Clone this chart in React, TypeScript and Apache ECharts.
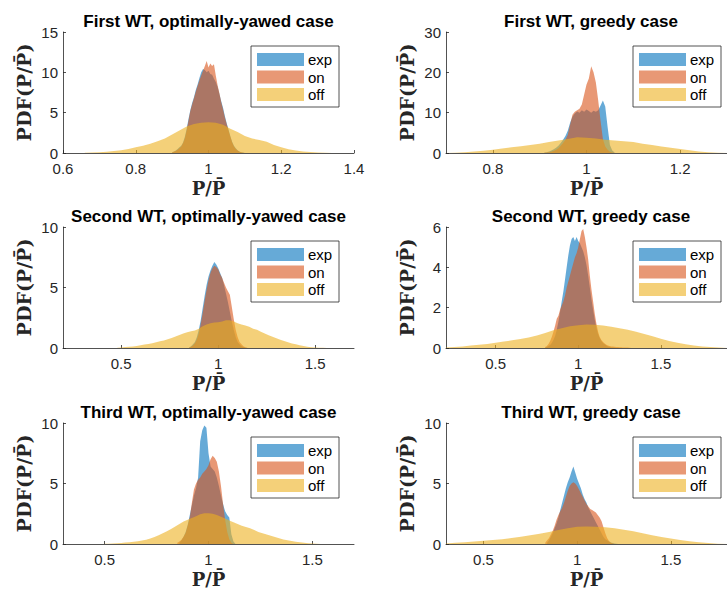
import React, { useEffect, useRef } from "react";
import * as echarts from "echarts";

// ---------- data ----------
const TITLES = [
  "First WT, optimally-yawed case",
  "First WT, greedy case",
  "Second WT, optimally-yawed case",
  "Second WT, greedy case",
  "Third WT, optimally-yawed case",
  "Third WT, greedy case",
];
const SERIES_NAMES = ["exp", "on", "off"];
const X_RANGES = [[0.6, 1.4], [0.7, 1.3], [0.2, 1.7], [0.2, 1.9], [0.3, 1.7], [0.3, 1.8]];
const X_TICKS = [
  [0.6, 0.8, 1, 1.2, 1.4],
  [0.8, 1, 1.2],
  [0.5, 1, 1.5],
  [0.5, 1, 1.5],
  [0.5, 1, 1.5],
  [0.5, 1, 1.5],
];
const Y_TICKS = [[0, 5, 10, 15], [0, 10, 20, 30], [0, 5, 10], [0, 2, 4, 6], [0, 5, 10], [0, 5, 10]];

// bin start, bin width for each histogram
const EXP1_BINS = [0.9, 0.005];
const EXP1 = [0.1, 0.2, 0.3, 0.5, 0.7, 0.9, 1.3, 2.0, 3.0, 4.2, 5.3, 6.2, 6.9, 7.8, 8.5, 9.3, 10.0, 10.4, 10.3, 10.0, 10.2, 9.8, 9.7, 9.2, 8.8, 8.2, 7.3, 6.4, 5.6, 4.6, 3.7, 2.9, 2.1, 1.4, 0.9, 0.6, 0.35, 0.2, 0.1, 0.05, 0];
const ON1_BINS = [0.9, 0.005];
const ON1 = [0.05, 0.15, 0.25, 0.4, 0.6, 0.8, 1.2, 1.8, 2.8, 4.0, 5.2, 6.0, 6.8, 7.6, 8.3, 9.0, 9.6, 10.2, 10.8, 11.4, 10.6, 11.1, 10.8, 11.0, 9.6, 8.4, 7.4, 6.3, 5.4, 4.4, 3.6, 2.8, 2.0, 1.3, 0.8, 0.5, 0.3, 0.15, 0.08, 0.03, 0];
const OFF1_BINS = [0.66, 0.02];
const OFF1 = [0.02, 0.05, 0.1, 0.15, 0.25, 0.35, 0.5, 0.7, 0.9, 1.15, 1.45, 1.8, 2.3, 2.8, 3.3, 3.6, 3.75, 3.8, 3.75, 3.5, 3.0, 2.6, 2.1, 1.8, 1.6, 1.4, 1.0, 0.7, 0.45, 0.3, 0.2, 0.12, 0.07, 0.03, 0];

const EXP2_BINS = [0.91, 0.005];
const EXP2 = [0.1, 0.2, 0.4, 0.6, 0.9, 1.3, 1.8, 2.5, 3.3, 4.2, 5.5, 7.5, 9.0, 9.8, 10.3, 10.0, 10.6, 10.2, 10.8, 10.4, 10.0, 10.5, 10.2, 10.6, 11.8, 13.0, 11.5, 6.5, 2.0, 0.6, 0.1];
const ON2_BINS = [0.91, 0.005];
const ON2 = [0.05, 0.1, 0.2, 0.3, 0.5, 0.8, 1.2, 1.8, 2.5, 3.3, 4.5, 7.0, 9.5, 10.2, 10.6, 11.0, 12.0, 14.5, 17.0, 18.5, 21.5, 20.0, 17.5, 13.0, 8.0, 3.5, 1.6, 0.8, 0.3, 0.1, 0];
const OFF2_BINS = [0.7, 0.02];
const OFF2 = [0.02, 0.08, 0.2, 0.35, 0.55, 0.8, 1.1, 1.4, 1.7, 2.0, 2.3, 2.7, 3.1, 3.5, 3.9, 3.8, 3.6, 3.3, 3.1, 2.9, 2.7, 2.3, 2.0, 1.6, 1.3, 1.0, 0.7, 0.4, 0.2, 0.08, 0.02];

const EXP3_BINS = [0.85, 0.01];
const EXP3 = [0.05, 0.15, 0.3, 0.5, 0.9, 1.5, 2.3, 3.3, 4.3, 5.2, 5.9, 6.4, 6.8, 7.1, 6.9, 6.6, 6.2, 5.8, 5.2, 4.5, 3.8, 3.0, 2.2, 1.5, 0.9, 0.5, 0.3, 0.15, 0.08, 0.03, 0];
const ON3_BINS = [0.85, 0.01];
const ON3 = [0.03, 0.1, 0.2, 0.4, 0.7, 1.2, 2.0, 2.9, 3.9, 4.8, 5.6, 6.2, 6.6, 6.8, 6.7, 6.5, 6.1, 5.8, 5.4, 5.0, 4.7, 4.4, 3.4, 2.4, 1.5, 0.9, 0.5, 0.3, 0.15, 0.07, 0.02];
const OFF3_BINS = [0.48, 0.02];
const OFF3 = [0.02, 0.05, 0.08, 0.1, 0.13, 0.17, 0.22, 0.28, 0.34, 0.4, 0.47, 0.55, 0.63, 0.72, 0.83, 0.95, 1.08, 1.2, 1.3, 1.38, 1.45, 1.6, 1.8, 1.95, 2.05, 2.1, 2.12, 2.2, 2.3, 2.3, 2.2, 2.05, 1.95, 1.85, 1.75, 1.6, 1.5, 1.35, 1.2, 1.05, 0.92, 0.8, 0.68, 0.57, 0.47, 0.38, 0.3, 0.22, 0.16, 0.11, 0.07, 0.05, 0.03, 0.02, 0];

const EXP4_BINS = [0.8, 0.01];
const EXP4 = [0.02, 0.05, 0.1, 0.15, 0.25, 0.4, 0.6, 0.9, 1.3, 1.8, 2.3, 2.8, 3.4, 4.0, 4.6, 5.1, 5.4, 5.5, 5.3, 5.5, 5.3, 5.2, 5.0, 4.8, 4.5, 4.1, 3.6, 3.0, 2.4, 1.9, 1.4, 1.0, 0.7, 0.5, 0.35, 0.25, 0.18, 0.12, 0.08, 0.05, 0.03, 0.02, 0.01, 0];
const ON4_BINS = [0.8, 0.01];
const ON4 = [0.05, 0.1, 0.2, 0.35, 0.55, 0.8, 1.1, 1.45, 1.6, 1.9, 2.1, 2.3, 2.6, 3.0, 3.3, 3.6, 3.9, 4.2, 4.5, 4.7, 5.0, 5.4, 5.8, 5.9, 5.5, 5.0, 4.4, 3.6, 2.9, 2.3, 1.7, 1.2, 0.8, 0.55, 0.4, 0.3, 0.22, 0.16, 0.12, 0.1, 0.08, 0.07, 0.06, 0.05, 0.05, 0.04, 0.04, 0.03, 0.03, 0.02, 0.02, 0.01, 0];
const OFF4_BINS = [0.2, 0.05];
const OFF4 = [0.02, 0.05, 0.08, 0.12, 0.16, 0.2, 0.26, 0.32, 0.38, 0.45, 0.52, 0.62, 0.75, 0.88, 0.98, 1.08, 1.13, 1.16, 1.15, 1.12, 1.05, 0.98, 0.9, 0.8, 0.7, 0.58, 0.46, 0.35, 0.26, 0.18, 0.12, 0.08, 0.05, 0.02, 0];

const EXP5_BINS = [0.86, 0.01];
const EXP5 = [0.1, 0.3, 0.6, 1.0, 1.6, 2.4, 3.2, 4.0, 4.6, 5.5, 8.5, 9.4, 9.8, 9.6, 7.5, 6.4, 6.2, 6.0, 5.5, 4.8, 4.0, 3.3, 2.7, 2.4, 2.2, 0.8, 0.2, 0];
const ON5_BINS = [0.85, 0.01];
const ON5 = [0.1, 0.2, 0.35, 0.6, 0.9, 1.5, 2.2, 3.4, 4.5, 5.0, 5.3, 5.5, 5.8, 6.0, 6.2, 6.5, 7.0, 7.3, 7.1, 6.8, 6.0, 4.8, 3.3, 2.0, 1.0, 0.4, 0.1, 0];
const OFF5_BINS = [0.5, 0.02];
const OFF5 = [0.02, 0.03, 0.05, 0.07, 0.09, 0.12, 0.15, 0.19, 0.23, 0.28, 0.35, 0.45, 0.58, 0.72, 0.88, 1.05, 1.25, 1.45, 1.65, 1.85, 2.0, 2.15, 2.3, 2.45, 2.55, 2.55, 2.5, 2.4, 2.25, 2.1, 1.95, 1.8, 1.65, 1.5, 1.4, 1.3, 1.15, 1.0, 0.88, 0.78, 0.68, 0.57, 0.47, 0.38, 0.31, 0.25, 0.19, 0.14, 0.1, 0.07, 0.05, 0.03, 0.01, 0];

const EXP6_BINS = [0.84, 0.01];
const EXP6 = [0.1, 0.3, 0.6, 0.9, 1.3, 1.7, 2.2, 2.8, 3.4, 4.0, 4.6, 5.1, 5.5, 6.0, 6.4, 5.9, 5.4, 5.0, 4.6, 4.1, 3.7, 3.4, 3.0, 2.7, 2.4, 2.1, 1.8, 1.5, 1.2, 0.9, 0.6, 0.4, 0.3, 0.2, 0.12, 0.08, 0.05, 0.02, 0];
const ON6_BINS = [0.83, 0.01];
const ON6 = [0.1, 0.3, 0.5, 0.8, 1.1, 1.5, 2.0, 2.4, 2.7, 3.0, 3.4, 3.9, 4.4, 4.8, 5.0, 5.1, 5.0, 4.8, 4.5, 4.2, 3.9, 3.6, 3.3, 3.1, 2.9, 2.8, 2.7, 2.6, 2.4, 2.2, 1.9, 1.4, 0.9, 0.5, 0.25, 0.1, 0.05, 0];
const OFF6_BINS = [0.3, 0.05];
const OFF6 = [0.05, 0.1, 0.15, 0.2, 0.27, 0.33, 0.4, 0.5, 0.6, 0.72, 0.85, 1.0, 1.15, 1.3, 1.42, 1.45, 1.43, 1.38, 1.3, 1.18, 1.05, 0.88, 0.72, 0.57, 0.45, 0.33, 0.22, 0.14, 0.08, 0.03, 0.01];

const HISTS = [
  [[EXP1_BINS, EXP1], [ON1_BINS, ON1], [OFF1_BINS, OFF1]],
  [[EXP2_BINS, EXP2], [ON2_BINS, ON2], [OFF2_BINS, OFF2]],
  [[EXP3_BINS, EXP3], [ON3_BINS, ON3], [OFF3_BINS, OFF3]],
  [[EXP4_BINS, EXP4], [ON4_BINS, ON4], [OFF4_BINS, OFF4]],
  [[EXP5_BINS, EXP5], [ON5_BINS, ON5], [OFF5_BINS, OFF5]],
  [[EXP6_BINS, EXP6], [ON6_BINS, ON6], [OFF6_BINS, OFF6]],
];

// ---------- style ----------
const COLORS = ["#0072BD", "#D95319", "#EDB120"];
const ALPHA = 0.6;
const AXIS_COLOR = "#262626";
const COL_LEFT = [63, 446];
const COL_WIDTH = [291, 290];
const ROW_TOP = [32, 227, 423];
const PLOT_H = 121;
const SANS = "'Liberation Sans', Arial, Helvetica, sans-serif";
const SERIF = "'DejaVu Serif', serif";

function toPairs(bins: number[], vals: number[]) {
  const [start, step] = bins;
  return vals.map((v, k) => [Math.round((start + k * step) * 10000) / 10000, v]);
}

function buildOption() {
  const grid: any[] = [];
  const xAxis: any[] = [];
  const yAxis: any[] = [];
  const series: any[] = [];
  const graphic: any[] = [];

  for (let i = 0; i < 6; i++) {
    const col = i % 2;
    const row = Math.floor(i / 2);
    const left = COL_LEFT[col];
    const width = COL_WIDTH[col];
    const top = ROW_TOP[row];
    grid.push({ left, top, width, height: PLOT_H, containLabel: false });
    const yt = Y_TICKS[i];
    xAxis.push({
      gridIndex: i,
      type: "value",
      min: X_RANGES[i][0],
      max: X_RANGES[i][1],
      name: "P/P\u0304",
      nameLocation: "middle",
      nameGap: 26,
      nameTextStyle: { fontFamily: SERIF, fontWeight: "bold", fontSize: 18, color: AXIS_COLOR },
      axisLine: { show: true, lineStyle: { color: AXIS_COLOR, width: 0.8 } },
      axisTick: { show: true, inside: true, length: 3, customValues: X_TICKS[i], lineStyle: { color: AXIS_COLOR, width: 0.8 } },
      axisLabel: { show: true, margin: 8, customValues: X_TICKS[i], fontFamily: SANS, fontSize: 15, color: AXIS_COLOR },
      splitLine: { show: false },
    });
    yAxis.push({
      gridIndex: i,
      type: "value",
      min: yt[0],
      max: yt[yt.length - 1],
      interval: yt[1] - yt[0],
      name: "PDF(P/P\u0304)",
      nameLocation: "middle",
      nameGap: 30,
      nameTextStyle: { fontFamily: SERIF, fontWeight: "bold", fontSize: 19, color: AXIS_COLOR },
      axisLine: { show: true, lineStyle: { color: AXIS_COLOR, width: 0.8 } },
      axisTick: { show: true, inside: true, length: 3, lineStyle: { color: AXIS_COLOR, width: 0.8 } },
      axisLabel: { show: true, margin: 5, fontFamily: SANS, fontSize: 15, color: AXIS_COLOR },
      splitLine: { show: false },
    });
    HISTS[i].forEach(([bins, vals], s) => {
      series.push({
        type: "line",
        name: SERIES_NAMES[s],
        xAxisIndex: i,
        yAxisIndex: i,
        data: toPairs(bins as number[], vals as number[]),
        showSymbol: false,
        symbol: "none",
        silent: true,
        lineStyle: { width: 0, opacity: 0 },
        areaStyle: { color: COLORS[s], opacity: ALPHA },
        z: 2 + s,
      });
    });
    // title
    graphic.push({
      type: "text",
      x: left + width / 2,
      y: top - 11,
      style: {
        text: TITLES[i],
        align: "center",
        verticalAlign: "middle",
        fontFamily: SANS,
        fontWeight: "bold",
        fontSize: 17,
        fill: "#000",
      },
    });
    // legend
    const bx = left + width - 15 - 88;
    const by = top + 14;
    const children: any[] = [
      { type: "rect", shape: { x: 0, y: 0, width: 88, height: 61 }, style: { fill: "#fff", stroke: AXIS_COLOR, lineWidth: 0.8 } },
    ];
    SERIES_NAMES.forEach((nm, s) => {
      const py = 7 + s * 17.5;
      children.push({
        type: "rect",
        shape: { x: 6, y: py, width: 47, height: 13 },
        style: { fill: COLORS[s], opacity: ALPHA },
      });
      children.push({
        type: "text",
        x: 57,
        y: py + 6.5,
        style: { text: nm, fontFamily: SANS, fontSize: 15, fill: "#000", verticalAlign: "middle", align: "left" },
      });
    });
    graphic.push({ type: "group", x: bx, y: by, z: 10, children });
  }

  return {
    animation: false,
    backgroundColor: "#fff",
    grid,
    xAxis,
    yAxis,
    series,
    graphic,
  };
}

export default function App() {
  const ref = useRef<HTMLDivElement>(null);
  useEffect(() => {
    if (!ref.current) return;
    const chart = echarts.init(ref.current, undefined, { renderer: "svg" });
    chart.setOption(buildOption() as any);
    return () => chart.dispose();
  }, []);
  return (
    <div
      ref={ref}
      style={{ position: "absolute", left: 0, top: 0, width: 727, height: 589, background: "#fff" }}
    />
  );
}
